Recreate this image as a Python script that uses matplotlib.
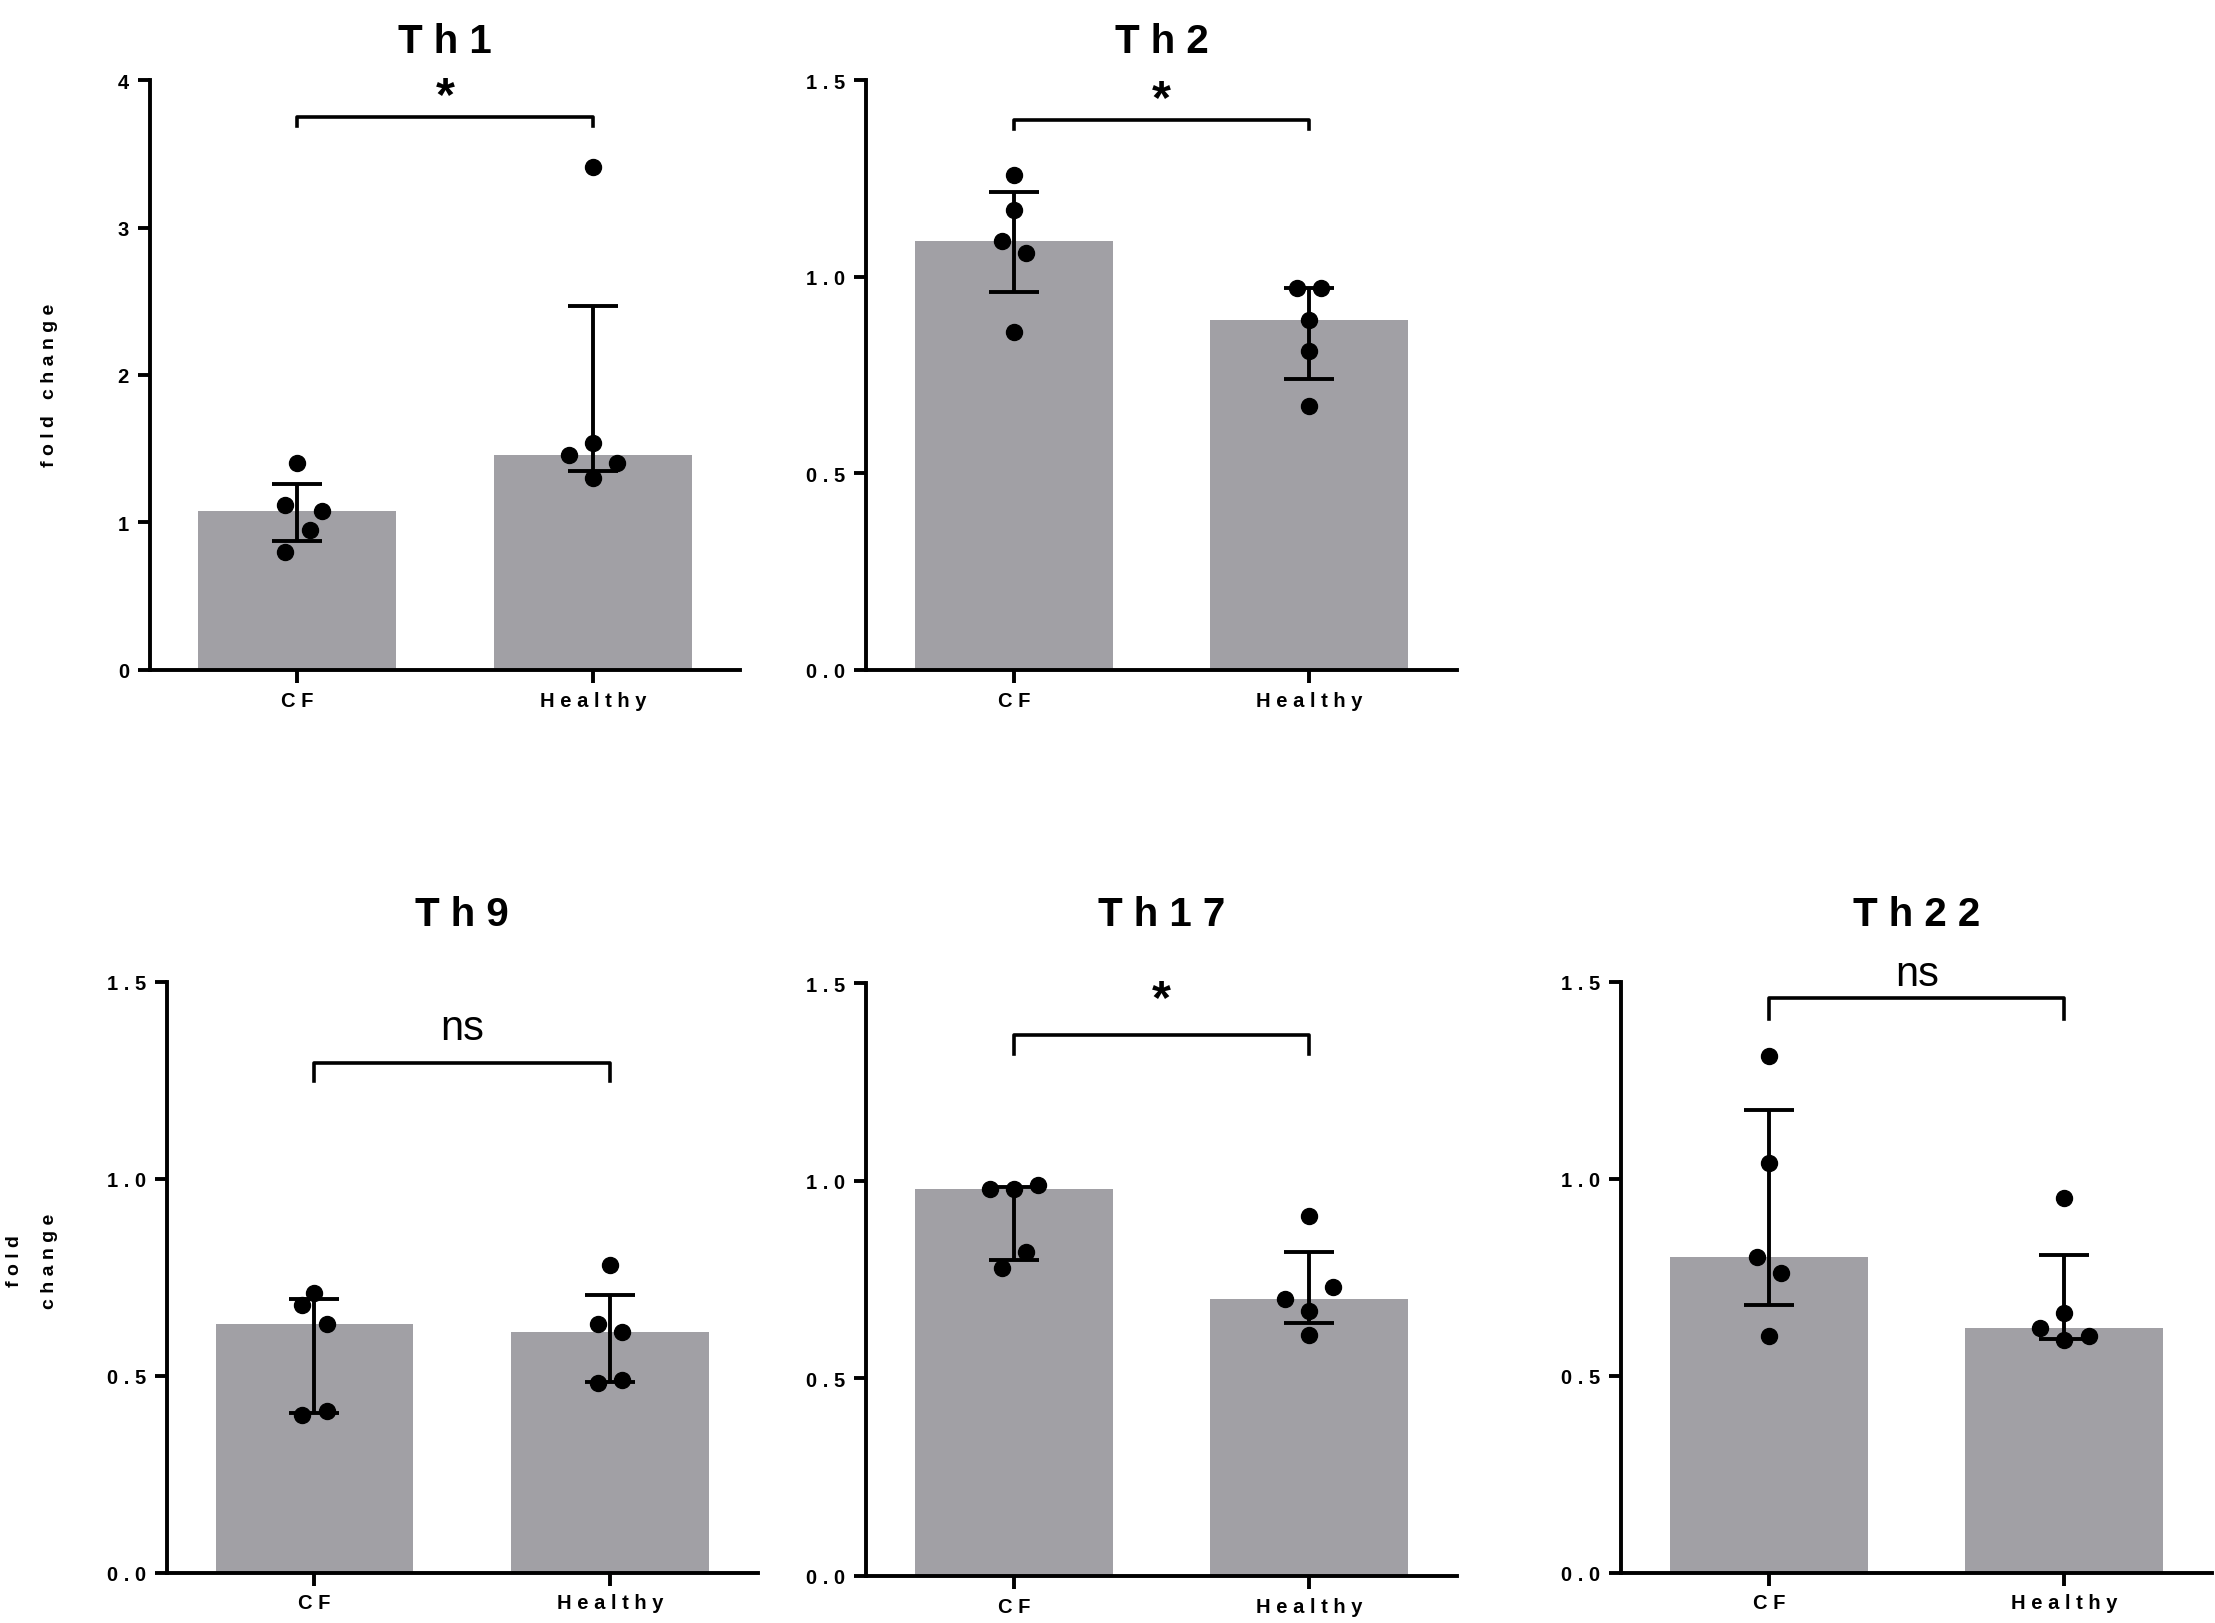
import matplotlib.pyplot as plt
import numpy as np

plt.rcParams['font.family'] = ['Liberation Sans', 'DejaVu Sans']

groups = ['CF', 'Healthy']

# values (bar = median, whiskers = interquartile range)
th1_cf = [0.80, 1.40, 1.12, 1.08, 0.95]
th1_healthy = [3.41, 1.54, 1.46, 1.40, 1.30]
th1_median = [1.08, 1.46]
th1_low = [0.87, 1.35]
th1_high = [1.26, 2.47]

th2_cf = [1.26, 1.17, 1.09, 1.06, 0.86]
th2_healthy = [0.97, 0.97, 0.89, 0.81, 0.67]
th2_median = [1.09, 0.89]
th2_low = [0.96, 0.74]
th2_high = [1.215, 0.97]

th9_cf = [0.71, 0.68, 0.63, 0.40, 0.41]
th9_healthy = [0.78, 0.63, 0.61, 0.48, 0.49]
th9_median = [0.63, 0.61]
th9_low = [0.405, 0.485]
th9_high = [0.695, 0.705]

th17_cf = [0.98, 0.98, 0.99, 0.82, 0.78]
th17_healthy = [0.91, 0.73, 0.70, 0.67, 0.61]
th17_median = [0.98, 0.70]
th17_low = [0.80, 0.64]
th17_high = [0.983, 0.82]

th22_cf = [1.31, 1.04, 0.80, 0.76, 0.60]
th22_healthy = [0.95, 0.66, 0.62, 0.59, 0.60]
th22_median = [0.80, 0.62]
th22_low = [0.68, 0.593]
th22_high = [1.175, 0.805]

# horizontal scatter of the dots (in steps)
jit_th1 = ([-1, 0, -1, 2, 1], [0, 0, -2, 2, 0])
jit_th2 = ([0, 0, -1, 1, 0], [-1, 1, 0, 0, 0])
jit_th9 = ([0, -1, 1, -1, 1], [0, -1, 1, -1, 1])
jit_th17 = ([-2, 0, 2, 1, -1], [0, 2, -2, 0, 0])
jit_th22 = ([0, 0, -1, 1, 0], [0, 0, -2, 0, 2])

signif = ['*', '*', 'ns', '*', 'ns']

panels = [
    dict(name='Th1', cf=th1_cf, he=th1_healthy, med=th1_median, lo=th1_low, hi=th1_high,
         jit=jit_th1, sig=signif[0], ymax=4, ticks=[0, 1, 2, 3, 4], fmt='{:.0f}',
         pos=[0.0676, 0.587, 0.2667, 0.363], br=3.75, leg=0.06, sy=3.89, ty=0.974),
    dict(name='Th2', cf=th2_cf, he=th2_healthy, med=th2_median, lo=th2_low, hi=th2_high,
         jit=jit_th2, sig=signif[1], ymax=1.5, ticks=[0, 0.5, 1.0, 1.5], fmt='{:.1f}',
         pos=[0.391, 0.587, 0.2667, 0.363], br=1.40, leg=0.023, sy=1.452, ty=0.974),
    dict(name='Th9', cf=th9_cf, he=th9_healthy, med=th9_median, lo=th9_low, hi=th9_high,
         jit=jit_th9, sig=signif[2], ymax=1.5, ticks=[0, 0.5, 1.0, 1.5], fmt='{:.1f}',
         pos=[0.0753, 0.031, 0.2667, 0.364], br=1.294, leg=0.046, sy=1.383, ty=0.4365),
    dict(name='Th17', cf=th17_cf, he=th17_healthy, med=th17_median, lo=th17_low, hi=th17_high,
         jit=jit_th17, sig=signif[3], ymax=1.5, ticks=[0, 0.5, 1.0, 1.5], fmt='{:.1f}',
         pos=[0.391, 0.029, 0.2667, 0.365], br=1.37, leg=0.05, sy=1.458, ty=0.4365),
    dict(name='Th22', cf=th22_cf, he=th22_healthy, med=th22_median, lo=th22_low, hi=th22_high,
         jit=jit_th22, sig=signif[4], ymax=1.5, ticks=[0, 0.5, 1.0, 1.5], fmt='{:.1f}',
         pos=[0.732, 0.031, 0.2667, 0.364], br=1.459, leg=0.053, sy=1.519, ty=0.4365),
]


def spaced(s):
    return ' '.join(s)


fig = plt.figure(figsize=(22.15, 16.24), dpi=100)
x = np.arange(len(groups))
step = 0.041

for p in panels:
    ax = fig.add_axes(p['pos'])
    ax.bar(x, p['med'], width=0.67, color='#a1a0a5', zorder=1)
    for i, pts in enumerate([p['cf'], p['he']]):
        xs = x[i] + step * np.array(p['jit'][i])
        ax.plot(xs, pts, 'o', color='black', ms=11.5, zorder=2, clip_on=False)
    med = np.array(p['med'])
    yerr = [med - np.array(p['lo']), np.array(p['hi']) - med]
    ax.errorbar(x, med, yerr=yerr, fmt='none', ecolor='black', elinewidth=2.8,
                capsize=18, capthick=2.8, zorder=3)

    # significance bracket
    b, l = p['br'], p['leg']
    ax.plot([0, 0, 1, 1], [b - l, b, b, b - l], color='black', lw=2.6,
            clip_on=False, zorder=4)
    if p['sig'] == '*':
        ax.text(0.5, p['sy'], '*', ha='center', va='center', fontsize=35,
                fontweight='bold', clip_on=False)
    else:
        ax.text(0.5, p['sy'], p['sig'], ha='center', va='center', fontsize=30,
                clip_on=False)

    ax.set_xlim(-0.5, 1.5)
    ax.set_ylim(0, p['ymax'])
    ax.set_xticks(x)
    ax.set_xticklabels([spaced(g) for g in groups], fontsize=14.5, fontweight='bold')
    ax.set_yticks(p['ticks'])
    ax.set_yticklabels([spaced(p['fmt'].format(t)) for t in p['ticks']],
                       fontsize=14.5, fontweight='bold')
    for side in ['top', 'right']:
        ax.spines[side].set_visible(False)
    for side in ['left', 'bottom']:
        ax.spines[side].set_linewidth(2.8)
    ax.tick_params(width=2.8, length=9, direction='out', pad=6)

    cx = p['pos'][0] + p['pos'][2] / 2
    fig.text(cx, p['ty'], spaced(p['name']), ha='center', va='center',
             fontsize=29, fontweight='bold')

fig.text(0.0223, 0.763, spaced('fold') + '   ' + spaced('change'), rotation=90,
         ha='center', va='center', fontsize=14, fontweight='bold')
fig.text(0.0064, 0.2235, spaced('fold'), rotation=90,
         ha='center', va='center', fontsize=14, fontweight='bold')
fig.text(0.0223, 0.2235, spaced('change'), rotation=90,
         ha='center', va='center', fontsize=14, fontweight='bold')

fig.savefig('out.png', dpi=100, facecolor='white')
